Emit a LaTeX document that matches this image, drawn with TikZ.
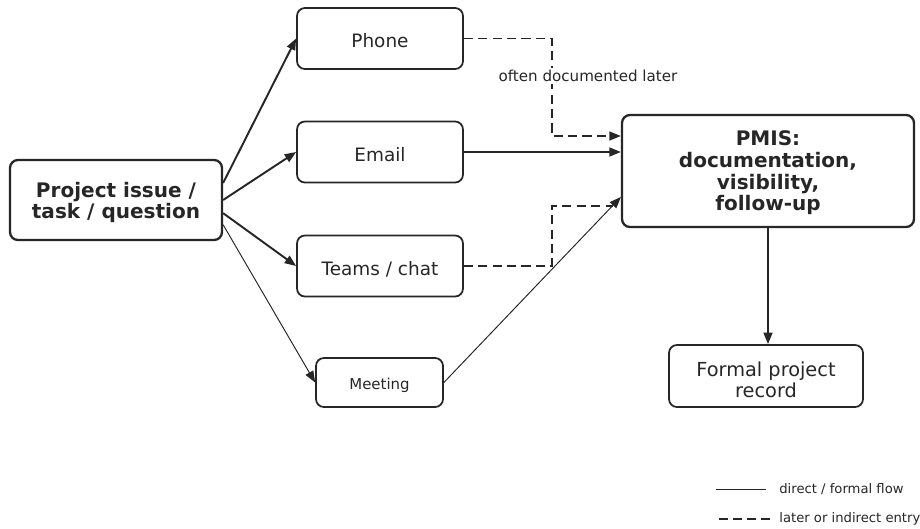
\documentclass[tikz,border=0pt]{standalone}
\usepackage{fontspec}
\setmainfont{DejaVu Sans}
\usetikzlibrary{arrows.meta,positioning,calc}
\definecolor{ink}{HTML}{262626}
\newcommand\lowtab[2]{\raisebox{-#1}[\height][\depth]{\begin{tabular}{@{}c@{}}#2\end{tabular}}}

\begin{document}
\begin{tikzpicture}[x=0.02cm,y=-0.02cm,
  box/.style={rectangle,draw=ink,line width=1pt,rounded corners=4.5pt,inner sep=0pt,text=ink},
  chan/.style={box,minimum width=3.32cm,minimum height=1.22cm,text height=10.8pt,text depth=0pt,font=\fontsize{10.5}{12.5}\selectfont},
  main/.style={box,line width=1.3pt,font=\fontsize{11.4}{12.2}\selectfont\bfseries},
  flow/.style={draw=ink,line width=1.1pt,-{Triangle[length=6.5pt,width=5pt]}},
  thinflow/.style={flow,line width=0.55pt},
  later/.style={draw=ink,line width=1.1pt,dash pattern=on 5.2pt off 3pt},
  small/.style={text=ink,inner sep=0pt,font=\fontsize{7.5}{9}\selectfont}]
\useasboundingbox (0,0) rectangle (920,528);
% nodes
\node (proj) at (116,200) [main,minimum width=4.24cm,minimum height=1.6cm] {\lowtab{2.1pt}{Project issue /\\task / question}};
\node (phone) at (380,38.5) [chan] {Phone};
\node (email) at (380,152) [chan] {Email};
\node (teams) at (380,266) [chan] {Teams / chat};
\node (meet) at (379.5,382.5) [chan,minimum width=2.54cm,minimum height=0.98cm,text height=7.6pt,font=\fontsize{8.5}{10}\selectfont] {Meeting};
\node (pmis) at (768,171) [main,minimum width=5.84cm,minimum height=2.24cm] {\lowtab{1.75pt}{PMIS:\\documentation,\\visibility,\\follow-up}};
\node (rec) at (766,376) [box,minimum width=3.88cm,minimum height=1.24cm,font=\fontsize{11}{12}\selectfont] {\lowtab{3.6pt}{Formal project\\record}};

% channels
\draw[flow] (proj.9) -- (phone.west);
\draw[flow] (proj.east) -- (email.west);
\draw[flow] (proj.-7) -- (teams.west);
\draw[thinflow] (proj.-13) -- (meet.west);

% towards the PMIS
\draw[later,-{Triangle[length=6.5pt,width=5pt]}] (phone.east) -- ++(88,0) |- ($(pmis.west)+(0,-35)$);
\draw[flow] (email.east) -- (email.east -| pmis.west);
\draw[later] (teams.east) -- ++(88,0) |- ($(pmis.west)+(-8,35)$);
\draw[thinflow] (meet.east) -- ($(pmis.west)+(0,26)$);
\draw[flow] (pmis.south) -- (pmis.south |- rec.north);
\node (note) at (588,76) [text=ink,fill=white,inner sep=1pt,font=\fontsize{8.6}{10}\selectfont] {often documented later};

% legend
\node (lg1) at (779,489) [small,anchor=west] {direct / formal flow};
\node (lg2) at (779,519) [small,anchor=west] {later or indirect entry};
\draw[ink,line width=1pt] ($(lg1.west)+(-13,0.5)$) -- ++(-50,0);
\draw[ink,line width=1pt,dash pattern=on 5pt off 3pt] ($(lg2.west)+(-9,0)$) -- ++(-54,0);
\end{tikzpicture}
\end{document}
